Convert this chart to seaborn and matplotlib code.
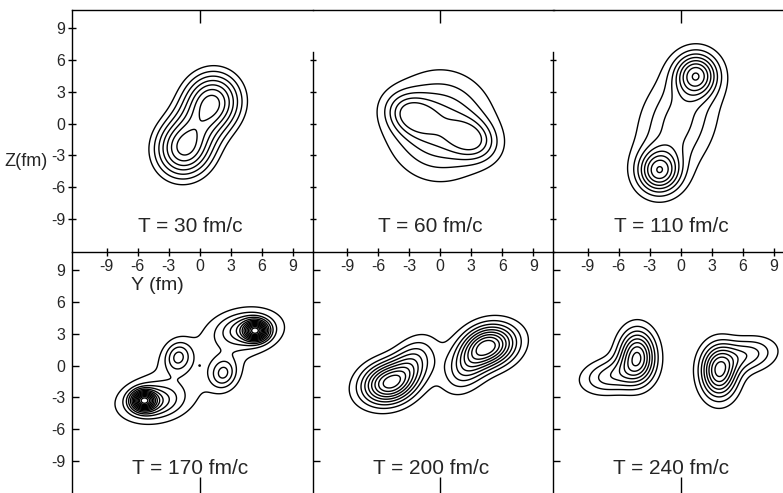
import numpy as np
import matplotlib.pyplot as plt
from matplotlib.ticker import FixedLocator
import seaborn as sns

sns.set_theme(style="white")
plt.rcParams["font.family"] = ["Liberation Sans", "DejaVu Sans"]
plt.rcParams["axes.unicode_minus"] = False

times = [30, 60, 110, 170, 200, 240]
ticks = [-9, -6, -3, 0, 3, 6, 9]

# density blobs for each time step: centre Y, centre Z (fm), width along / across
# the blob axis (fm), axis angle (deg), height
blob_y = [
    [1.2, -1.5],
    [0.0, -2.9, 3.1],
    [1.5, -2.1, -0.3],
    [-5.4, -4.5, 5.4, 4.5, -2.1, 2.3, 0.0, 0.0],
    [-5.2, -2.9, 4.9, 2.8, 0.0],
    [-4.2, -6.8, 3.7, 6.4],
]
blob_z = [
    [2.0, -2.3],
    [-0.2, 0.9, -1.5],
    [4.6, -4.5, 0.1],
    [-3.3, -3.4, 3.3, 3.4, 0.85, -0.76, 0.0, 0.0],
    [-1.7, 0.0, 1.9, 0.2, 0.1],
    [0.9, -1.0, -0.6, 1.0],
]
blob_wa = [
    [2.1, 2.1],
    [3.1, 1.6, 1.6],
    [1.4, 1.4, 3.4],
    [0.75, 1.9, 0.75, 1.9, 1.0, 1.0, 5.5, 0.2],
    [1.7, 1.9, 1.7, 1.9, 6.0],
    [1.2, 1.9, 1.2, 1.9],
]
blob_wb = [
    [2.0, 2.0],
    [3.1, 1.25, 1.25],
    [1.4, 1.4, 2.3],
    [0.6, 1.1, 0.6, 1.1, 0.85, 0.85, 2.2, 0.2],
    [1.3, 1.2, 1.3, 1.2, 1.6],
    [1.7, 1.1, 1.7, 1.1],
]
blob_ang = [
    [58, 58],
    [0, -22, -22],
    [69, 69, 69],
    [0, 5, 0, 5, 70, 70, 30, 0],
    [15, 55, 15, 55, 20],
    [0, 10, 0, 10],
]
blob_amp = [
    [0.82, 0.82],
    [0.30, 0.26, 0.26],
    [0.55, 0.55, 0.28],
    [0.75, 0.3, 0.75, 0.3, 0.24, 0.24, 0.1, 0.03],
    [0.55, 0.28, 0.55, 0.28, 0.055],
    [0.55, 0.25, 0.55, 0.25],
]
levels = [
    [0.2, 0.3, 0.4, 0.5, 0.6, 0.7, 0.8],
    [0.07, 0.135, 0.20, 0.27, 0.34],
    [0.08, 0.16, 0.24, 0.32, 0.40, 0.48, 0.56, 0.64],
    [0.07, 0.14, 0.21, 0.28, 0.36, 0.44, 0.52, 0.60, 0.68, 0.76, 0.84, 0.92, 1.0],
    [0.07, 0.14, 0.21, 0.28, 0.35, 0.42, 0.49, 0.56, 0.63],
    [0.07, 0.14, 0.21, 0.28, 0.35, 0.42, 0.49, 0.56, 0.63],
]

xlim = (-12.35, 10.95)
ylim = (-12.15, 10.75)

yy, zz = np.meshgrid(np.linspace(*xlim, 400), np.linspace(*ylim, 400))


def density(k):
    rho = np.zeros_like(yy)
    for y0, z0, wa, wb, ang, amp in zip(blob_y[k], blob_z[k], blob_wa[k],
                                        blob_wb[k], blob_ang[k], blob_amp[k]):
        t = np.deg2rad(ang)
        u = (yy - y0) * np.cos(t) + (zz - z0) * np.sin(t)
        v = -(yy - y0) * np.sin(t) + (zz - z0) * np.cos(t)
        rho += amp * np.exp(-0.5 * ((u / wa) ** 2 + (v / wb) ** 2))
    return rho


W, H = 783, 493
fig = plt.figure(figsize=(W / 100, H / 100), dpi=100)
col_left = [72, 312.5, 553]
row_top = [10, 252]
pw, ph = 241, 242
tk = dict(width=1, color="black")

for k, t in enumerate(times):
    r, c = divmod(k, 3)
    ax = fig.add_axes([col_left[c] / W, 1 - (row_top[r] + ph) / H, pw / W, ph / H])
    ax.set_facecolor("none")
    ax.contour(yy, zz, density(k), levels=levels[k], colors="black",
               linewidths=1.0)
    ax.set_xlim(xlim)
    ax.set_ylim(ylim)

    for s in ax.spines.values():
        s.set_color("black")
        s.set_linewidth(1.0)
    ax.spines["right"].set_visible(False)
    ax.spines["top"].set_visible(False)
    ax.grid(False)

    ax.yaxis.set_minor_locator(FixedLocator([0]))
    ax.xaxis.set_minor_locator(FixedLocator([0]))
    ax.tick_params(which="both", bottom=True, left=True, top=False, right=False)

    if r == 0:
        ax.set_xticks(ticks)
        ax.tick_params(axis="x", which="major", direction="inout", length=6,
                       labelsize=11.5, pad=2, **tk)
        ax.tick_params(axis="x", which="minor", direction="in", length=11, **tk)
        top = ax.secondary_xaxis("top")
        top.set_xticks([0])
        top.tick_params(direction="in", length=9, labeltop=False, top=True, **tk)
        top.spines["top"].set_linewidth(1.0)
        top.spines["top"].set_color("black")
        if c == 0:
            ax.set_yticks(ticks)
            ax.tick_params(axis="y", which="major", direction="inout",
                           length=6, labelsize=11.5, pad=2, **tk)
            ax.tick_params(axis="y", which="minor", direction="in",
                           length=12, **tk)
        else:
            ax.spines["left"].set_bounds(ylim[0], 6.8)
            ax.set_yticks(ticks[:-1])
            ax.set_yticklabels([])
            ax.tick_params(axis="y", which="major", direction="inout",
                           length=5, **tk)
            ax.tick_params(axis="y", which="minor", direction="inout",
                           length=16, **tk)
        if c == 2:
            ax.tick_params(axis="y", which="minor", right=True)
    else:
        ax.set_xticks([])
        ax.tick_params(axis="x", which="minor", direction="in", length=12, **tk)
        ax.set_yticks(ticks)
        ax.tick_params(axis="y", which="major", direction="in", length=5,
                       labelsize=11.5, pad=5, **tk)
        if c == 0:
            ax.tick_params(axis="y", which="minor", direction="in",
                           length=9, **tk)
        else:
            ax.set_yticklabels([])
            ax.tick_params(axis="y", which="minor", direction="inout",
                           length=16, **tk)

    ax.text(0.49, 0.105, f"T = {t} fm/c", transform=ax.transAxes,
            ha="center", va="center", fontsize=15,
            family=["Liberation Sans Narrow", "Liberation Sans", "DejaVu Sans"])

fig.text(4 / W, 1 - 162 / H, "Z(fm)", ha="left", va="center", fontsize=13)
fig.text(157 / W, 1 - 285 / H, "Y (fm)", ha="center", va="center", fontsize=14)

fig.savefig("out.png", dpi=100)
